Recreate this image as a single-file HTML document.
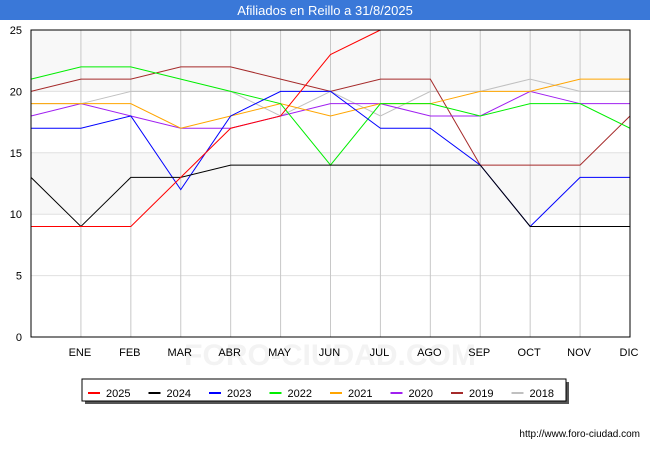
<!DOCTYPE html>
<html><head><meta charset="utf-8"><style>
body{margin:0;width:650px;height:450px;background:#fff;font-family:"Liberation Sans",sans-serif;overflow:hidden}
</style></head><body>
<svg id="c" width="650" height="450" xmlns="http://www.w3.org/2000/svg">
<rect x="0" y="0" width="650" height="20" fill="#3a78d8"/>
<text x="325" y="15" text-anchor="middle" fill="#fff" font-size="13">Afiliados en Reillo a 31/8/2025</text>
<text x="330" y="365" text-anchor="middle" fill="#f3f3f3" font-size="30" font-weight="bold">FORO-CIUDAD.COM</text>
<g id="plot"></g>
<text x="640" y="437" text-anchor="end" font-size="10" fill="#000">http://www.foro-ciudad.com</text>
</svg>
<script>
const months=["","ENE","FEB","MAR","ABR","MAY","JUN","JUL","AGO","SEP","OCT","NOV","DIC"];
const yTicks=[0,5,10,15,20,25];
const years=["2025","2024","2023","2022","2021","2020","2019","2018"];
const colors=["#ff0000","#000000","#0000ff","#00ee00","#ffa500","#a020f0","#a52a2a","#c0c0c0"];
const s2025=[9,9,9,13,17,18,23,25];
const s2024=[13,9,13,13,14,14,14,14,14,14,9,9,9];
const s2023=[17,17,18,12,18,20,20,17,17,14,9,13,13];
const s2022=[21,22,22,21,20,19,14,19,19,18,19,19,17];
const s2021=[19,19,19,17,18,19,18,19,19,20,20,21,21];
const s2020=[18,19,18,17,17,18,19,19,18,18,20,19,19];
const s2019=[20,21,21,22,22,21,20,21,21,14,14,14,18];
const s2018=[19,19,20,20,20,18,20,18,20,20,21,20,20];
const series=[s2025,s2024,s2023,s2022,s2021,s2020,s2019,s2018];
const X0=31,X1=630,Y0=337,Y1=30;
const xs=i=>X0+i*(X1-X0)/12;
const ys=v=>Y0-v*(Y0-Y1)/25;
const NS="http://www.w3.org/2000/svg";
const g=document.getElementById('plot');
function mk(t,a){const e=document.createElementNS(NS,t);for(const k in a)e.setAttribute(k,a[k]);g.appendChild(e);return e;}
for(let i=0;i<yTicks.length-1;i++){
 if(i%2===1||i===0)continue;
 const r=mk('rect',{x:X0,y:ys(yTicks[i+1]),width:X1-X0,height:ys(yTicks[i])-ys(yTicks[i+1]),fill:'#f8f8f8'});
 
 
}
yTicks.forEach(v=>{
 const l=mk('line',{x1:X0,x2:X1,y1:ys(v),y2:ys(v),stroke:'#e0e0e0'});
 
 
 const t=mk('text',{x:X0-9,y:ys(v)+4,'text-anchor':'end','font-size':11});
 t.textContent=v;
 
 
});
months.forEach((m,i)=>{
 if(!m)return;
 const l=mk('line',{x1:xs(i),x2:xs(i),y1:Y1,y2:Y0,stroke:'#c8c8c8'});
 
 
 const t=mk('text',{x:xs(i)-1,y:356,'text-anchor':'middle','font-size':11});
 t.textContent=m;
 
 
});
for(let k=series.length-1;k>=0;k--){
 const p=mk('polyline',{points:series[k].map((v,i)=>xs(i)+','+ys(v)).join(' '),fill:'none',stroke:colors[k],'stroke-width':1});
 
 
}
const f=mk('rect',{x:X0,y:Y1,width:X1-X0,height:Y0-Y1,fill:'none',stroke:'#000'});


const sh=mk('rect',{x:85,y:382,width:484,height:22,fill:'#555'});


const lb=mk('rect',{x:82,y:379,width:484,height:22,fill:'#fff',stroke:'#000'});


years.forEach((y,k)=>{
 const x=88+k*60.5;
 const l=mk('line',{x1:x,x2:x+12,y1:393,y2:393,stroke:colors[k],'stroke-width':2});
 
 
 const t=mk('text',{x:x+18,y:397,'font-size':11});
 t.textContent=y;
 
 
});
</script>
</body></html>
